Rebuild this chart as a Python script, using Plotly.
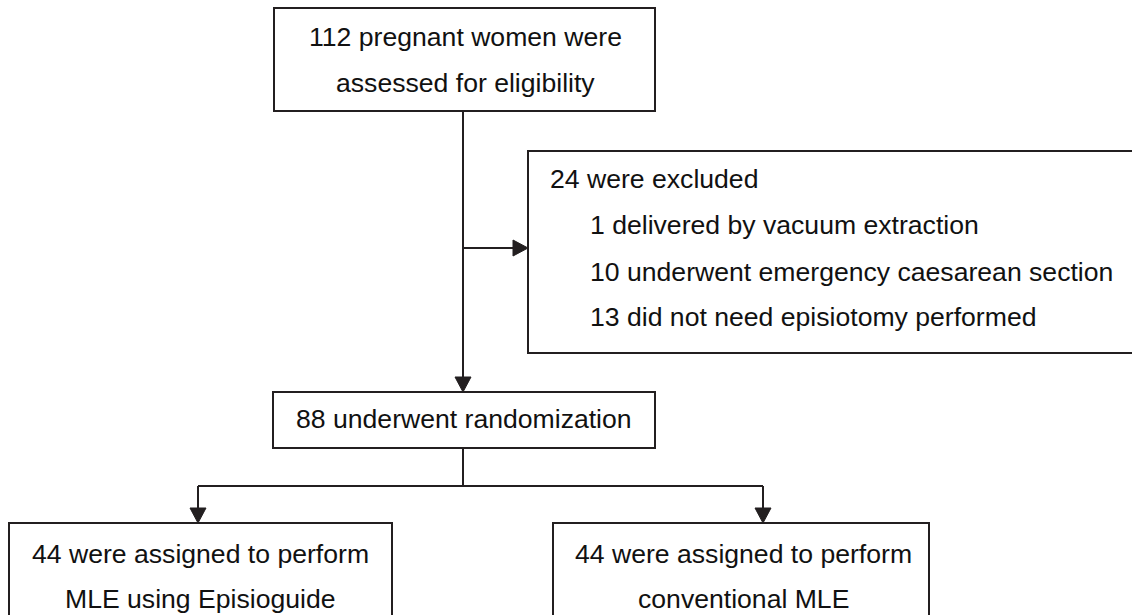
import plotly.graph_objects as go

# ---- data (texts of the flow diagram) ----
box_screen = ["112 pregnant women were", "assessed for eligibility"]
excl_head = ["24 were excluded"]
excl_reasons = ["1 delivered by vacuum extraction",
                "10 underwent emergency caesarean section",
                "13 did not need episiotomy performed"]
box_random = ["88 underwent randomization"]
box_left = ["44 were assigned to perform", "MLE using Episioguide"]
box_right = ["44 were assigned to perform", "conventional MLE"]

# ---- layout geometry (pixels) ----
W, H = 1132, 615
LC = "#231f20"
LW = 2
FONT = dict(family="Liberation Sans, Arial, sans-serif", size=26.6, color="#111111")

boxes = {
    "screen": (274, 8, 655, 111),
    "excl": (528, 151, 1140, 353),
    "rand": (273, 392, 655, 448),
    "left": (9, 523, 392, 640),
    "right": (553, 523, 929, 640),
}

fig = go.Figure()
shapes = []
for (x0, y0, x1, y1) in boxes.values():
    shapes.append(dict(type="rect", x0=x0, y0=y0, x1=x1, y1=y1, xref="x", yref="y",
                       line=dict(color=LC, width=LW), fillcolor="white"))

def line(x0, y0, x1, y1):
    shapes.append(dict(type="line", x0=x0, y0=y0, x1=x1, y1=y1, xref="x", yref="y",
                       line=dict(color=LC, width=LW)))

def arrow_head(x, y, direction, L=15, Wd=8):
    if direction == "down":
        p = f"M {x} {y} L {x-Wd} {y-L} L {x+Wd} {y-L} Z"
    else:  # right
        p = f"M {x} {y} L {x-L} {y-Wd} L {x-L} {y+Wd} Z"
    shapes.append(dict(type="path", path=p, xref="x", yref="y",
                       line=dict(color=LC, width=1), fillcolor=LC))

xc = 463
# main vertical
line(xc, 111, xc, 380)
arrow_head(xc, 392, "down")
# side branch
line(xc, 248, 515, 248)
arrow_head(528, 248, "right")
# randomization split
line(xc, 448, xc, 486)
line(198, 486, 763, 486)
line(198, 486, 198, 510)
arrow_head(198, 523, "down")
line(763, 486, 763, 510)
arrow_head(763, 523, "down")

annotations = []
def txt(s, x, y, align="center"):
    annotations.append(dict(text=s, x=x, y=y, xref="x", yref="y", showarrow=False,
                            xanchor="left" if align == "left" else "center",
                            yanchor="middle", font=FONT))

for s, y in zip(box_screen, [37, 83]):
    txt(s, 465, y)
txt(excl_head[0], 548, 179, "left")
for s, y in zip(excl_reasons, [225, 272, 317]):
    txt(s, 588, y, "left")
txt(box_random[0], 464, 419)
for s, y in zip(box_left, [554, 599]):
    txt(s, 200, y)
for s, y in zip(box_right, [554, 599]):
    txt(s, 743, y)

fig.update_layout(
    width=W, height=H,
    margin=dict(l=0, r=0, t=0, b=0),
    paper_bgcolor="white", plot_bgcolor="white",
    xaxis=dict(range=[0, W], visible=False, fixedrange=True),
    yaxis=dict(range=[H, 0], visible=False, fixedrange=True),
    shapes=shapes, annotations=annotations, showlegend=False,
)
fig.write_html("out.html", config={"displayModeBar": False},
               post_script="document.body.style.margin='0';document.body.style.overflow='hidden';")
